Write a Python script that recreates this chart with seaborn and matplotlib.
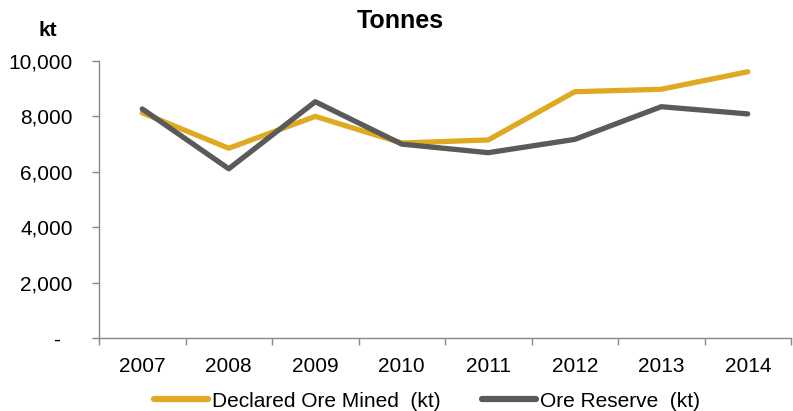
import matplotlib
matplotlib.use("Agg")
import matplotlib.pyplot as plt
import seaborn as sns
import pandas as pd
import numpy as np
from matplotlib.ticker import FuncFormatter, FixedLocator

years = ["2007", "2008", "2009", "2010", "2011", "2012", "2013", "2014"]
declared_ore_mined = [8130, 6850, 8000, 7040, 7150, 8890, 8980, 9610]
ore_reserve = [8270, 6110, 8530, 7000, 6690, 7170, 8350, 8090]
series_names = ["Declared Ore Mined  (kt)", "Ore Reserve  (kt)"]
colors = ["#DFAA22", "#5A5A5A"]

sns.set_theme(style="white")
plt.rcParams['font.family'] = ['Liberation Sans', 'DejaVu Sans']

df = pd.DataFrame({
    "pos": list(range(len(years))) * 2,
    "value": declared_ore_mined + ore_reserve,
    "series": [series_names[0]] * len(years) + [series_names[1]] * len(years),
})

fig = plt.figure(figsize=(7.93, 4.11), dpi=100)
ax = fig.add_axes([99/793, (411-338)/411, (791-99)/793, (338-61)/411])

sns.lineplot(data=df, x="pos", y="value", hue="series", palette=colors,
             linewidth=3.8, ax=ax, legend=True, solid_capstyle="round")

ax.set_xlim(-0.5, len(years) - 0.5)
ax.set_ylim(0, 10000)
ax.set_xlabel("")
ax.set_ylabel("")

ax.set_xticks(range(len(years)))
ax.set_xticklabels(years)
ax.xaxis.set_minor_locator(FixedLocator(np.arange(-0.5, len(years), 1.0)))
ax.tick_params(axis="x", which="major", length=0, pad=14, labelsize=15, labelcolor="black")
ax.tick_params(axis="x", which="minor", length=5, width=1, color="#888888", direction="out", bottom=True)

ax.set_yticks([0, 2000, 4000, 6000, 8000, 10000])
ax.yaxis.set_major_formatter(FuncFormatter(lambda v, p: "-  " if v == 0 else f"{int(v):,}"))
ax.tick_params(axis="y", length=5, width=1, color="#888888", direction="out", left=True,
               labelsize=15, pad=14, labelcolor="black")

for s in ["top", "right"]:
    ax.spines[s].set_visible(False)
for s in ["left", "bottom"]:
    ax.spines[s].set_color("#888888")
    ax.spines[s].set_linewidth(1)

fig.text(400/793, 1 - 21/411, "Tonnes", ha="center", va="center", fontsize=18, fontweight="bold",
         color="black")
fig.text(48/793, 1 - 31/411, "kt", ha="center", va="center", fontsize=15, fontweight="bold",
         color="black")

leg = ax.legend(loc="center", bbox_to_anchor=(427/793, 1 - 401/411), bbox_transform=fig.transFigure,
                ncol=2, frameon=False, fontsize=15, handlelength=2.6, columnspacing=2.0,
                handletextpad=0.2, borderpad=0, borderaxespad=0)
for line in leg.get_lines():
    line.set_linewidth(4.5)
    line.set_solid_capstyle("round")
for t in leg.get_texts():
    t.set_color("black")

fig.savefig("out.png", dpi=100)
